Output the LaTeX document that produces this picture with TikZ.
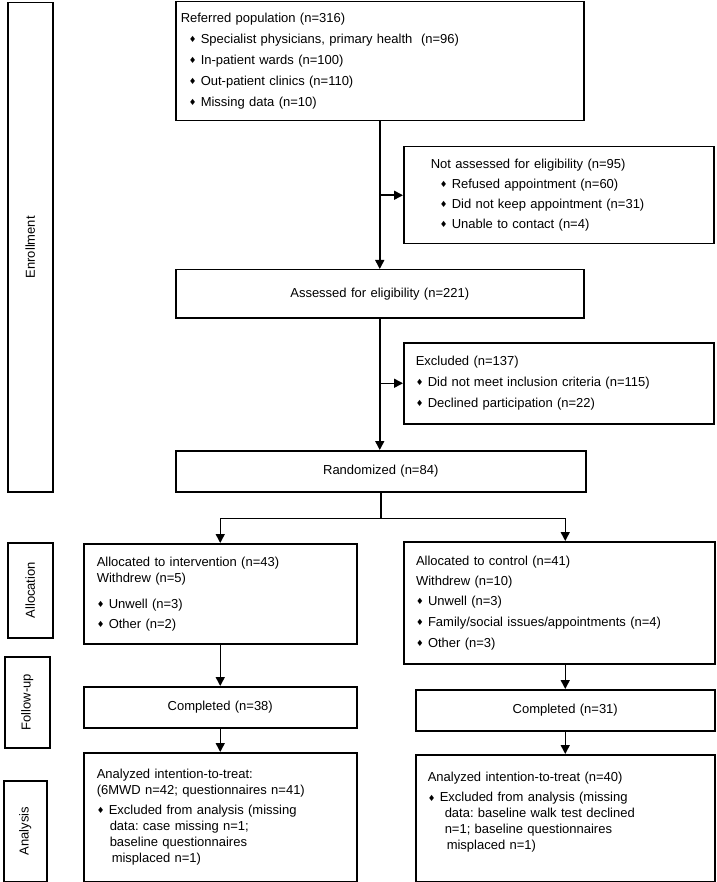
\documentclass[tikz,border=0pt]{standalone}
\usepackage{fontspec}
\setmainfont{Liberation Sans}
\newfontfamily\dmdfont{DejaVu Sans}
\usetikzlibrary{arrows.meta,positioning}
\frenchspacing

\newcommand{\dmd}{\makebox[12pt][l]{\raisebox{0.8pt}{\dmdfont\fontsize{8.5}{8.5}\selectfont ♦}}}

\tikzset{
  box/.style={draw, line width=1.5pt, anchor=north west, inner xsep=12pt, inner ysep=0pt,
    align=left, font=\fontsize{13}{16}\selectfont},
  cbox/.style={box, align=center},
  side/.style={draw, line width=1.5pt, anchor=north west, inner sep=0pt,
    font=\fontsize{13}{16}\selectfont},
  arr/.style={line width=1.5pt, -{Triangle[length=9pt,width=9pt]}},
  link/.style={line width=1.5pt}
}

\begin{document}
\begin{tikzpicture}[x=1pt,y=-1pt]
  \useasboundingbox (0,0) rectangle (716,882);

  % stage labels on the left
  \node[side, minimum width=45pt, minimum height=489pt] (enroll) at (7,2) {\rotatebox{90}{Enrollment}};
  \node[side, minimum width=45pt, minimum height=95pt] (alloc) at (7,542) {\rotatebox{90}{Allocation}};
  \node[side, minimum width=45pt, minimum height=91pt] (follow) at (4,656) {\rotatebox{90}{Follow-up}};
  \node[side, minimum width=43pt, minimum height=101pt] (analysis) at (3,780) {\rotatebox{90}{Analysis}};

  % enrollment
  \node[box, inner xsep=5pt, text width=398pt, minimum height=119pt] (refer) at (175,1)
    {Referred population (n=316)\\[5pt]
     \hspace*{8pt}\dmd Specialist physicians, primary health\ \ (n=96)\\[5pt]
     \hspace*{8pt}\dmd In-patient wards (n=100)\\[5pt]
     \hspace*{8pt}\dmd Out-patient clinics (n=110)\\[5pt]
     \hspace*{8pt}\dmd Missing data (n=10)};
  \node[box, inner xsep=27pt, text width=256pt, minimum height=97pt] (notass) at (403,146)
    {Not assessed for eligibility (n=95)\\[4pt]
     \hspace*{9pt}\dmd Refused appointment (n=60)\\[4pt]
     \hspace*{9pt}\dmd Did not keep appointment (n=31)\\[4pt]
     \hspace*{9pt}\dmd Unable to contact (n=4)};
  \node[cbox, text width=384pt, minimum height=48pt] (assess) at (175,269)
    {Assessed for eligibility (n=221)};
  \node[box, text width=286pt, minimum height=81pt] (excl) at (403,342)
    {Excluded (n=137)\\[5pt]
     \dmd Did not meet inclusion criteria (n=115)\\[5pt]
     \dmd Declined participation (n=22)};
  \node[cbox, text width=386pt, minimum height=41pt] (rand) at (175,450)
    {Randomized (n=84)};

  % allocation
  \node[box, inner xsep=13pt, text width=247pt, minimum height=100pt] (allocI) at (83,543)
    {Allocated to intervention (n=43)\\
     Withdrew (n=5)\\[10pt]
     \dmd Unwell (n=3)\\[4pt]
     \dmd Other (n=2)};
  \node[box, line width=2pt, text width=287pt, minimum height=122pt] (allocC) at (403,541)
    {Allocated to control (n=41)\\[4pt]
     Withdrew (n=10)\\[4pt]
     \dmd Unwell (n=3)\\[5pt]
     \dmd Family/social issues/appointments (n=4)\\[5pt]
     \dmd Other (n=3)};

  % follow-up
  \node[cbox, text width=249pt, minimum height=41pt] (compI) at (83,686) {Completed (n=38)};
  \node[cbox, text width=275pt, minimum height=41pt] (compC) at (415,689) {Completed (n=31)};

  % analysis
  \node[box, inner xsep=13pt, text width=247pt, minimum height=129pt] (anaI) at (83,752)
    {Analyzed intention-to-treat:\\
     (6MWD n=42; questionnaires n=41)\\[4pt]
     \dmd Excluded from analysis (missing\\
     \hspace*{13pt}data: case missing n=1;\\
     \hspace*{13pt}baseline questionnaires\\
     \hspace*{15pt}misplaced n=1)};
  \node[box, text width=275pt, minimum height=127pt] (anaC) at (415,754)
    {Analyzed intention-to-treat (n=40)\\[4pt]
     \dmd Excluded from analysis (missing\\
     \hspace*{17pt}data: baseline walk test declined\\
     \hspace*{17pt}n=1; baseline questionnaires\\
     \hspace*{19pt}misplaced n=1)\\[-2pt]\mbox{}};

  % connectors
  \draw[arr] (refer.south) -- (assess.north);
  \draw[arr] (refer.south |- notass.west) -- (notass.west);
  \draw[arr] (assess.south) -- (assess.south |- rand.north);
  \draw[arr] (assess.south |- excl.west) -- (excl.west);
  \coordinate (split) at ([yshift=-26pt]rand.south);
  \draw[link] (rand.south) -- (split);
  \draw[arr] (split) -| (allocI.north);
  \draw[arr] (split) -| (compC.north |- allocC.north);
  \draw[arr] (allocI.south) -- (compI.north);
  \draw[arr] (compC.north |- allocC.south) -- (compC.north);
  \draw[arr] (compI.south) -- (anaI.north);
  \draw[arr] (compC.south) -- (anaC.north);
\end{tikzpicture}
\end{document}
